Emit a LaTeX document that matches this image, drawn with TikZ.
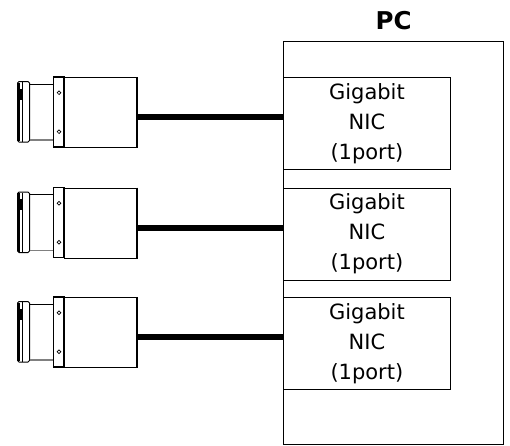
\documentclass[tikz,border=0pt]{standalone}
\usepackage{fontspec}
\setmainfont{DejaVu Sans}
\usetikzlibrary{positioning}
\tikzstyle{nicbox}=[draw,line width=0.8pt,minimum width=167pt,minimum height=92pt,inner sep=0pt,anchor=north west,align=center,font=\fontsize{21}{30}\selectfont]
\tikzstyle{cable}=[line width=6pt]
\newcommand{\drawcamera}[2]{

\pgfmathsetmacro{\camtop}{#2}
% lens ring
\draw[line width=1pt,rounded corners=1.5pt] (17.5,\camtop+4.5) rectangle (29.5,\camtop+65);
\draw[line width=1.8pt] (18.7,\camtop+5.5) -- (18.7,\camtop+64);
\draw[line width=0.7pt] (22.5,\camtop+5) -- (22.5,\camtop+64.5);
\fill (16.5,\camtop+11.5) rectangle (23,\camtop+22.5);
% lens body
\draw[line width=0.9pt] (29.5,\camtop+7) -- (53.5,\camtop+7);
\draw[line width=1.4pt,gray] (29.5,\camtop+63) -- (53.5,\camtop+63);
% flange
\draw[line width=1.1pt] (53.5,\camtop) rectangle (64,\camtop+70);
\draw[line width=0.7pt] (59,\camtop+15.7) circle (1.8) (59,\camtop+54.7) circle (1.8);
% body
\node[draw,line width=1.1pt,minimum width=72pt,minimum height=70pt,inner sep=0pt,anchor=north west] (#1) at (64,\camtop) {};
\draw[line width=2.5pt] (#1.north east) -- (#1.south east);

}
\begin{document}
\begin{tikzpicture}[x=1pt,y=-1pt]
	\useasboundingbox (0,0) rectangle (510,445);
	\node[draw,line width=1.2pt,minimum width=220pt,minimum height=403pt,inner sep=0pt,anchor=north west] (pc) at (283,41) {};
	\node[above=11pt of pc,inner sep=0pt,font=\fontsize{24.5}{28}\selectfont\bfseries] (pclabel) {PC};
	\foreach \i/\ytop in {1/77,2/187.5,3/297} {
	  \drawcamera{cam\i}{\ytop}
	  \node[nicbox] (nic\i) at (283,\ytop) {Gigabit\\NIC\\(1port)};
	  \draw[cable] ([yshift=-4.5pt]cam\i.east) -- ([yshift=-4.5pt]cam\i.east -| nic\i.west); %link
	}
\end{tikzpicture}
\end{document}
